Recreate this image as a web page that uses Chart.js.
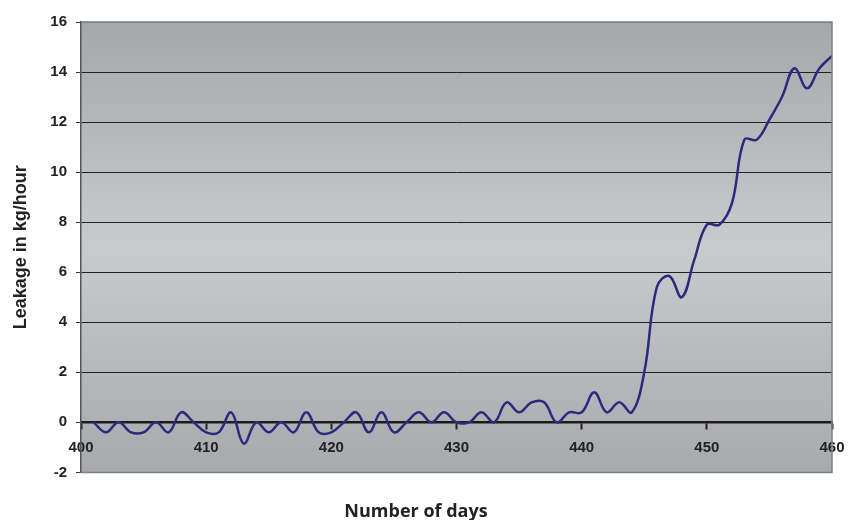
<!DOCTYPE html>
<html>
<head>
<meta charset="utf-8">
<script src="https://cdn.jsdelivr.net/npm/chart.js@4/dist/chart.umd.min.js"></script>
<style>
  html, body { margin: 0; padding: 0; background: #fff; }
  #wrap { width: 848px; height: 520px; }
</style>
</head>
<body>
<div id="wrap"><canvas id="leakChart"></canvas></div>
<script>
// days 401..460 and leakage
const days = [
  401, 402, 403, 404, 405, 406, 407, 408, 409, 410,
  411, 412, 413, 414, 415, 416, 417, 418, 419, 420,
  421, 422, 423, 424, 425, 426, 427, 428, 429, 430,
  431, 432, 433, 434, 435, 436, 437, 438, 439, 440,
  441, 442, 443, 444, 445, 446, 447, 448, 449, 450,
  451, 452, 453, 454, 455, 456, 457, 458, 459, 460
];
const leakage = [
  0, -0.4, 0, -0.4, -0.4, 0, -0.4, 0.4, 0, -0.4,
  -0.4, 0.4, -0.85, 0, -0.4, 0, -0.4, 0.4, -0.4, -0.4,
  0, 0.4, -0.4, 0.4, -0.4, 0, 0.4, 0, 0.4, 0,
  0, 0.4, 0, 0.8, 0.4, 0.8, 0.8, 0, 0.4, 0.4,
  1.2, 0.4, 0.8, 0.4, 2.0, 5.4, 5.85, 5.0, 6.5, 7.9,
  7.9, 8.75, 11.3, 11.3, 12.1, 13.0, 14.15, 13.35, 14.15, 14.65
];
const xTicks = [400, 410, 420, 430, 440, 450, 460];
const yTicks = [-2, 0, 2, 4, 6, 8, 10, 12, 14, 16];

const points = days.map((d, i) => ({ x: d, y: leakage[i] }));

// grey gradient behind the plot, and the grey frame
const plotBg = {
  id: 'plotBg',
  beforeDraw(chart) {
    const { ctx, chartArea: a } = chart;
    const g = ctx.createLinearGradient(0, a.top, 0, a.bottom);
    g.addColorStop(0, '#a6a7ab');
    g.addColorStop(0.5, '#c9cacc');
    g.addColorStop(1, '#a8a9ad');
    ctx.save();
    ctx.fillStyle = g;
    ctx.fillRect(a.left, a.top, a.right - a.left, a.bottom - a.top);
    ctx.restore();
  },
  afterDraw(chart) {
    const { ctx, chartArea: a } = chart;
    ctx.save();
    ctx.strokeStyle = '#7f8083';
    ctx.lineWidth = 1.5;
    ctx.beginPath();
    ctx.moveTo(a.left, a.top);
    ctx.lineTo(a.right, a.top);
    ctx.lineTo(a.right, a.bottom);
    ctx.lineTo(a.left, a.bottom);
    ctx.stroke();
    ctx.restore();
  }
};

const tickFont = { family: 'Liberation Sans', size: 15, weight: 'bold' };

new Chart(document.getElementById('leakChart'), {
  type: 'line',
  data: {
    datasets: [{
      data: points,
      borderColor: '#2c2a7c',
      borderWidth: 2.5,
      pointRadius: 0,
      tension: 0.4,
      fill: false
    }]
  },
  options: {
    responsive: true,
    maintainAspectRatio: false,
    animation: false,
    layout: { padding: { top: 22, right: 16, bottom: 0, left: 0 } },
    plugins: {
      legend: { display: false },
      tooltip: { enabled: false },
      title: {
        display: true,
        position: 'bottom',
        text: 'Number of days',
        color: '#222',
        font: { family: 'Open Sans', size: 18, weight: 'bold' },
        padding: { top: 29, bottom: -3 }
      }
    },
    scales: {
      x: {
        type: 'linear',
        position: { y: 0 },
        min: 400,
        max: 460,
        afterBuildTicks: s => { s.ticks = xTicks.map(v => ({ value: v })); },
        afterFit: s => { s.paddingLeft = 0; s.paddingRight = 0; },
        ticks: { color: '#222', font: tickFont, padding: 11, maxRotation: 0 },
        grid: {
          drawOnChartArea: false,
          drawTicks: true,
          tickLength: 6,
          tickWidth: 2,
          tickColor: '#222'
        },
        border: { color: '#1c1c1c', width: 2.5 }
      },
      y: {
        min: -2,
        max: 16,
        afterBuildTicks: s => { s.ticks = yTicks.map(v => ({ value: v })); },
        afterFit: s => { s.width = 81; },
        ticks: { color: '#222', font: tickFont, padding: 9 },
        grid: {
          color: c => (c.tick && (c.tick.value === 16 || c.tick.value === -2)) ? '#7f8083' : '#222',
          lineWidth: 1,
          tickLength: 5,
          tickColor: '#333'
        },
        border: { color: '#555', width: 1.5 },
        title: {
          display: true,
          text: 'Leakage in kg/hour',
          color: '#222',
          font: { family: 'Liberation Sans', size: 18, weight: 'bold' },
          padding: { top: 10, bottom: 0 }
        }
      }
    }
  },
  plugins: [plotBg]
});
</script>
</body>
</html>
